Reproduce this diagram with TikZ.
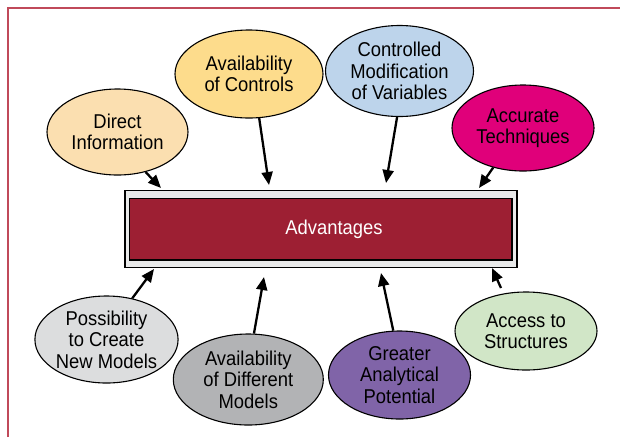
\documentclass[tikz,border=0pt]{standalone}
\usepackage{fontspec}
\setmainfont{Liberation Sans}[FakeStretch=0.92]
\usetikzlibrary{arrows.meta,shapes.geometric}
\definecolor{cDI}{HTML}{FBDFB0}
\definecolor{cAC}{HTML}{FDDC8C}
\definecolor{cCM}{HTML}{BDD4EB}
\definecolor{cAT}{HTML}{E0007A}
\definecolor{cPC}{HTML}{DCDDDE}
\definecolor{cAD}{HTML}{B2B3B5}
\definecolor{cGA}{HTML}{8064A8}
\definecolor{cAS}{HTML}{D1E6C7}
\definecolor{boxred}{HTML}{9D1F33}
\definecolor{boxgray}{HTML}{E9EAEA}
\definecolor{frame}{HTML}{C04A5A}
\begin{document}
\begin{tikzpicture}[x=1pt,y=-1pt,
  bub/.style={ellipse,draw=black,line width=1.1pt,inner sep=0pt,align=center,
    font=\fontsize{20}{21.5}\selectfont},
  arr/.style={line width=2.3pt,-{Triangle[length=13pt,width=11pt]}}]
\useasboundingbox (0,0) rectangle (620,437);
% frame
\draw[frame,line width=1.5pt] (8,437) -- (8,8) -- (620,8);
% central box
\node[draw=black,line width=1.1pt,fill=boxgray,minimum width=392pt,minimum height=77pt,inner sep=0pt] (box) at (321,229.3) {};
\node[draw=black,line width=1.3pt,fill=boxred,minimum width=382.7pt,minimum height=61.3pt,inner sep=0pt] (inner) at (320.7,229.4) {};
\node[text=white,font=\fontsize{20}{21.5}\selectfont,inner sep=0pt] (adv) at (334,229) {Advantages};
% ellipses
\node[bub,fill=cDI,minimum width=141pt,minimum height=86pt] (di) at (117.5,132) {Direct\\Information};
\node[bub,fill=cAC,minimum width=148pt,minimum height=88pt] (ac) at (249,74) {Availability\\of Controls};
\node[bub,fill=cCM,minimum width=148pt,minimum height=91pt] (cm) at (399.5,71) {Controlled\\Modification\\of Variables};
\node[bub,fill=cAT,minimum width=142pt,minimum height=86pt] (at) at (523,128) {Accurate\\Techniques};
\node[bub,fill=cPC,minimum width=143pt,minimum height=87pt] (pc) at (106.5,339.5) {Possibility\\to Create\\New Models};
\node[bub,fill=cAD,minimum width=150pt,minimum height=91pt] (ad) at (248.3,379.5) {Availability\\of Different\\Models};
\node[bub,fill=cGA,minimum width=142pt,minimum height=88pt] (ga) at (399.5,375) {Greater\\Analytical\\Potential};
\node[bub,fill=cAS,minimum width=142pt,minimum height=78pt] (as) at (526,331) {Access to\\Structures};
% arrow targets on the box
\coordinate (t1) at (161,188);
\coordinate (t2) at (269,185);
\coordinate (t3) at (386,183);
\coordinate (t4) at (479,188);
\coordinate (t5) at (154,269);
\coordinate (t6) at (264,277);
\coordinate (t7) at (381,273);
\coordinate (t8) at (492,268);
% arrows
\draw[arr] (di.-55) -- (t1);
\draw[arr] (ac.-77) -- (t2);
\draw[arr] (cm.-93) -- (t3);
\draw[arr] (at.-127) -- (t4);
\draw[arr] (pc.58) -- (t5);
\draw[arr] (ad.83) -- (t6);
\draw[arr] (ga.98) -- (t7);
\draw[arr,shorten <=6pt] (as.121) -- (t8);
\end{tikzpicture}
\end{document}
